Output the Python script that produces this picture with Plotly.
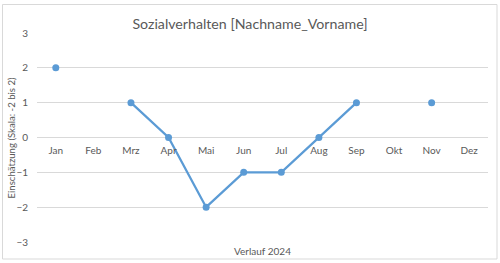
import plotly.graph_objects as go

months = ["Jan", "Feb", "Mrz", "Apr", "Mai", "Jun", "Jul", "Aug", "Sep", "Okt", "Nov", "Dez"]
values = [2, None, 1, 0, -2, -1, -1, 0, 1, None, 1, None]
y_ticks = [3, 2, 1, 0, -1, -2, -3]

title_text = "Sozialverhalten [Nachname_Vorname]"
y_title = "Einschätzung (Skala: -2 bis 2)"
x_title = "Verlauf 2024"

FONT = "Lato, Open Sans, sans-serif"
GRAY = "#595959"
GRID = "#D9D9D9"
BLUE = "#5B9BD5"

fig = go.Figure()
fig.add_trace(go.Scatter(
    x=months, y=values, mode="lines+markers",
    line=dict(color=BLUE, width=2.25),
    marker=dict(color=BLUE, size=7),
    connectgaps=False, hoverinfo="skip", showlegend=False,
))

W, H = 500, 263
L, R, T, B = 37, 12, 33, 21
pw, ph = W - L - R, H - T - B

fig.update_layout(
    width=W, height=H,
    margin=dict(l=L, r=R, t=T, b=B, autoexpand=False),
    paper_bgcolor="white", plot_bgcolor="white",
    font=dict(family=FONT, color=GRAY, size=10),
    title=dict(text=title_text, x=250 / W, xanchor="center", y=1 - 24.5 / H, yanchor="middle",
               font=dict(family=FONT, size=14.2, color=GRAY)),
    xaxis=dict(
        type="category", categoryorder="array", categoryarray=months,
        range=[-0.5, 11.5], showgrid=False, zeroline=False, showline=False,
        ticks="", anchor="free", position=0.5, ticklabelstandoff=5,
        tickfont=dict(family=FONT, size=10, color=GRAY), fixedrange=True,
    ),
    yaxis=dict(
        range=[-3, 3], tickvals=y_ticks, showgrid=True, gridcolor=GRID, gridwidth=1,
        zeroline=True, zerolinecolor=GRID, zerolinewidth=1, showline=False, ticks="",
        ticklabelstandoff=8, tickfont=dict(family=FONT, size=10, color=GRAY), fixedrange=True,
    ),
    annotations=[
        dict(text=x_title, xref="paper", yref="paper", x=0.5, y=(242 - 251) / ph,
             xanchor="center", yanchor="middle", showarrow=False,
             font=dict(family=FONT, size=10, color=GRAY)),
        dict(text=y_title, xref="paper", yref="paper", x=(11 - L) / pw, y=0.5,
             xanchor="center", yanchor="middle", textangle=-90, showarrow=False,
             font=dict(family=FONT, size=9.6, color=GRAY)),
    ],
    shapes=[
        dict(type="rect", xref="paper", yref="paper",
             x0=(2.5 - L) / pw, x1=(497 - L) / pw,
             y0=(242 - 259) / ph, y1=(242 - 4.5) / ph,
             line=dict(color=GRID, width=1), fillcolor="rgba(0,0,0,0)", layer="below"),
    ],
)

fig.write_html("out.html", config={"displayModeBar": False})
